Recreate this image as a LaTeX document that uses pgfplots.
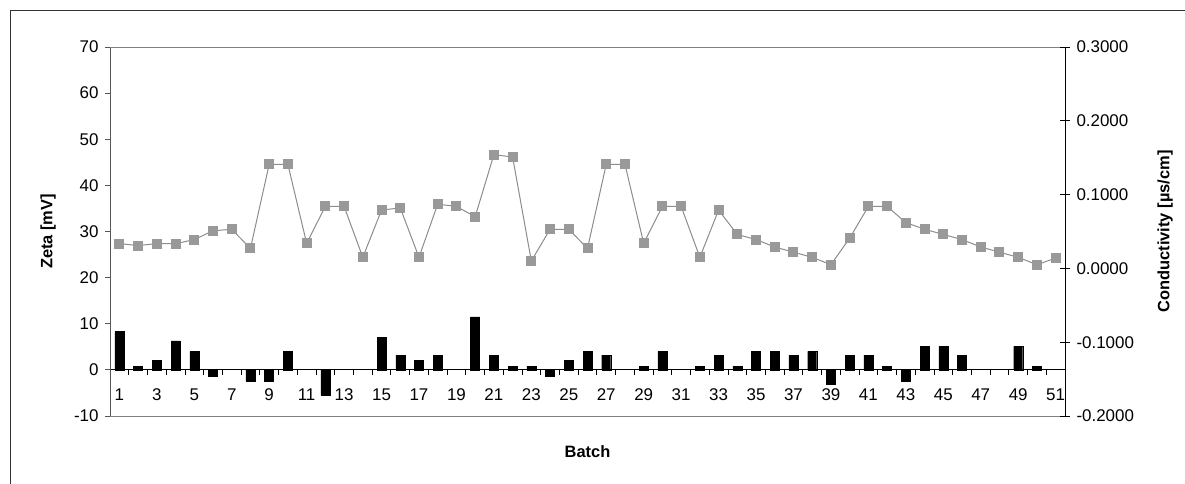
\documentclass[border=0pt]{standalone}
\usepackage{pgfplots}
\pgfplotsset{compat=1.18}
\usepackage{fontspec}
\setmainfont{Liberation Sans}
\definecolor{linegray}{HTML}{8C8C8C}
\definecolor{markgray}{HTML}{999999}
\definecolor{axisgray}{HTML}{555555}
\begin{document}
\begin{tikzpicture}[x=1bp,y=1bp]
\useasboundingbox (0,0) rectangle (1185,484);
\draw[black!80, line width=0.8bp] (10,0) -- (10,474) -- (1185,474);
\begin{axis}[
  at={(110bp,68bp)}, anchor=south west,
  scale only axis, width=955bp, height=369bp,
  xmin=0.5, xmax=51.5, ymin=-10, ymax=70,
  axis y line*=left, axis x line*=middle,
  y axis line style={axisgray, line width=1bp},
  x axis line style={black, line width=0.8bp},
  ytick={-10,0,...,70},
  ytick style={axisgray, line width=0.8bp},
  yticklabel style={xshift=-3bp},
  tick align=outside,
  major tick length=5bp,
  xtick={0.5,1.5,...,51.5},
  xticklabels={},
  xtick style={black, line width=0.8bp},
  extra x ticks={1,3,...,51},
  extra x tick labels={1,3,5,7,9,11,13,15,17,19,21,23,25,27,29,31,33,35,37,39,41,43,45,47,49,51},
  extra x tick style={major tick length=0pt, xticklabel style={yshift=-15bp}},
  tick label style={font=\fontsize{17}{19}\selectfont},
  /pgf/number format/assume math mode=true,
  every axis y label/.style={at={(rel axis cs:0,0.5)}, xshift=-62bp, rotate=90, anchor=center, font=\bfseries\fontsize{16.5}{19}\selectfont},
  every axis x label/.style={at={(rel axis cs:0.5,0)}, yshift=-36bp, anchor=center, font=\bfseries\fontsize{16.5}{19}\selectfont},
  ylabel={Zeta [mV]}, xlabel={Batch},
  clip=false,
]
\draw[gray, line width=0.8bp] (rel axis cs:0,0) -- (rel axis cs:1,0);
\draw[gray, line width=0.8bp] (rel axis cs:0,1) -- (rel axis cs:1,1);
\addplot[ybar, bar width=9bp, fill=black, draw=black] coordinates {
(1,8.3) (2,0.8) (3,2.1) (4,6.3) (5,4.0) (6,-1.3) (8,-2.4) (9,-2.4) (10,4.0)
(12,-5.5) (15,7.1) (16,3.2) (17,2.1) (18,3.2) (20,11.5) (21,3.2) (22,0.8)
(23,0.8) (24,-1.3) (25,2.1) (26,4.0) (27,3.2) (29,0.8) (30,4.0) (32,0.8)
(33,3.2) (34,0.8) (35,4.0) (36,4.0) (37,3.2) (38,4.0) (39,-3.2) (40,3.2)
(41,3.2) (42,0.8) (43,-2.4) (44,5.1) (45,5.1) (46,3.2) (49,5.1) (50,0.8)
};
\end{axis}
\begin{axis}[
  at={(110bp,68bp)}, anchor=south west,
  scale only axis, width=955bp, height=369bp,
  xmin=0.5, xmax=51.5, ymin=-0.2, ymax=0.3,
  axis y line*=right, axis x line=none,
  y axis line style={black, line width=1bp},
  ytick={-0.2,-0.1,0,0.1,0.2,0.3},
  scaled y ticks=false,
  yticklabel style={xshift=3bp, /pgf/number format/.cd, fixed, fixed zerofill, precision=4, assume math mode=true},
  ytick style={black, line width=0.8bp},
  tick align=center, major tick length=10bp,
  tick label style={font=\fontsize{17}{19}\selectfont},
  every axis y label/.style={at={(rel axis cs:1,0.5)}, xshift=100bp, rotate=90, anchor=center, font=\bfseries\fontsize{16.5}{19}\selectfont},
  ylabel={Conductivity [µs/cm]},
  clip=false,
]
\addplot[color=linegray, line width=1bp, mark=square*, mark size=4.5bp, mark options={fill=markgray, draw=markgray}] coordinates {
(1,0.0335) (2,0.031) (3,0.0335) (4,0.0335) (5,0.039) (6,0.051) (7,0.053)
(8,0.027) (9,0.141) (10,0.141) (11,0.034) (12,0.084) (13,0.084) (14,0.015)
(15,0.079) (16,0.082) (17,0.015) (18,0.087) (19,0.084) (20,0.070) (21,0.154)
(22,0.151) (23,0.010) (24,0.053) (25,0.053) (26,0.027) (27,0.141) (28,0.141)
(29,0.034) (30,0.084) (31,0.084) (32,0.015) (33,0.079) (34,0.046) (35,0.039)
(36,0.029) (37,0.022) (38,0.015) (39,0.005) (40,0.041) (41,0.084) (42,0.084)
(43,0.062) (44,0.053) (45,0.046) (46,0.039) (47,0.029) (48,0.022) (49,0.015)
(50,0.005) (51,0.014)
};
\end{axis}
\end{tikzpicture}
\end{document}
